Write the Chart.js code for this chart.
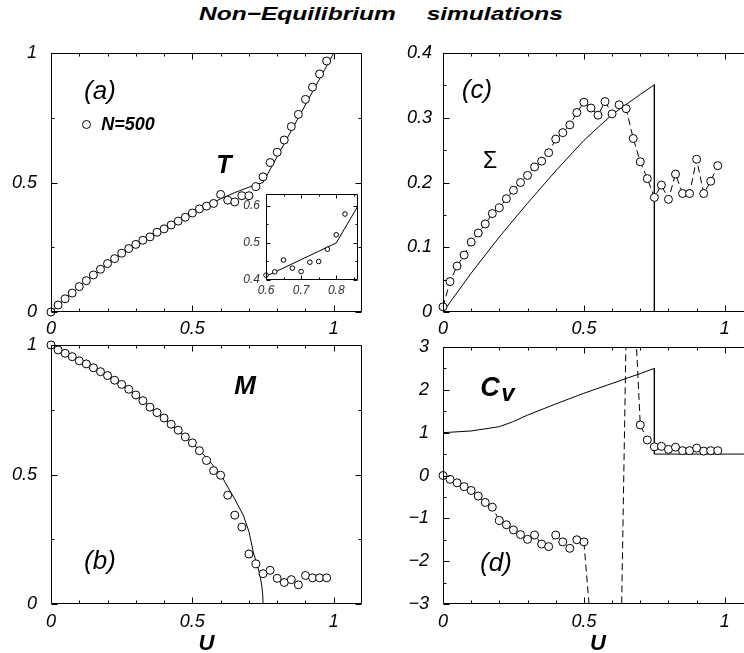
<!DOCTYPE html>
<html><head><meta charset="utf-8">
<script src="https://cdn.jsdelivr.net/npm/chart.js@4"></script>
<style>
html,body{margin:0;padding:0;background:#fff;}
body{width:744px;height:653px;overflow:hidden;position:relative;font-family:"Liberation Sans",Arial,sans-serif;}
canvas{position:absolute;}
.t{position:absolute;white-space:pre;line-height:1;transform:translate(-50%,-50%);color:#000;}
#title{position:absolute;left:199px;top:4px;font:italic bold 19px "Liberation Sans",Arial,sans-serif;line-height:1;white-space:pre;word-spacing:2.7px;transform:scaleX(1.29);transform-origin:0 0;}
#leg{position:absolute;left:81.5px;top:119.5px;width:9px;height:9px;border:1px solid #000;border-radius:50%;box-sizing:border-box;background:#fff;}
</style></head><body>
<div id="title">Non−Equilibrium   simulations</div>
<canvas id="ca"></canvas>
<canvas id="cb"></canvas>
<canvas id="cc"></canvas>
<canvas id="cd"></canvas>
<canvas id="ci"></canvas>
<div class="t" style="left:100px;top:90px;font:italic 26px 'Liberation Sans';">(a)</div>
<div class="t" style="left:100px;top:560px;font:italic 26px 'Liberation Sans';">(b)</div>
<div class="t" style="left:477px;top:89px;font:italic 26px 'Liberation Sans';">(c)</div>
<div class="t" style="left:496px;top:562px;font:italic 26px 'Liberation Sans';">(d)</div>
<div class="t" style="left:224px;top:164px;font:italic bold 25px 'Liberation Sans';">T</div>
<div class="t" style="left:245px;top:385px;font:italic bold 26px 'Liberation Sans';">M</div>
<div class="t" style="left:490px;top:160px;font:23px 'Liberation Sans';">Σ</div>
<div class="t" style="left:490px;top:387px;font:italic bold 27px 'Liberation Sans';">C</div>
<div class="t" style="left:508px;top:393px;font:italic bold 24px 'Liberation Sans';">v</div>
<div id="leg"></div>
<div class="t" style="left:128px;top:124px;font:italic bold 18px 'Liberation Sans';">N=500</div>
<script>
// ---------- data ----------
const U = [0, 0.025, 0.05, 0.075, 0.1, 0.125, 0.15, 0.175, 0.2, 0.225,
           0.25, 0.275, 0.3, 0.325, 0.35, 0.375, 0.4, 0.425, 0.45, 0.475,
           0.5, 0.525, 0.55, 0.575, 0.6, 0.625, 0.65, 0.675, 0.7, 0.725,
           0.75, 0.775, 0.8, 0.825, 0.85, 0.875, 0.9, 0.925, 0.95, 0.975];
const T_sim = [0.0, 0.027, 0.051, 0.073, 0.098, 0.121, 0.143, 0.165, 0.187, 0.206,
               0.227, 0.245, 0.261, 0.277, 0.290, 0.308, 0.321, 0.336, 0.351, 0.366,
               0.382, 0.398, 0.409, 0.419, 0.454, 0.432, 0.425, 0.449, 0.449, 0.484,
               0.522, 0.577, 0.617, 0.664, 0.716, 0.763, 0.821, 0.868, 0.919, 0.969];
const T_theoryU = [0, 0.05, 0.1, 0.15, 0.2, 0.25, 0.3, 0.35, 0.4, 0.45, 0.5, 0.55, 0.6, 0.65, 0.7, 0.75, 1.0];
const T_theory  = [0, 0.05, 0.097, 0.141, 0.184, 0.224, 0.26, 0.292, 0.322, 0.352, 0.381, 0.41, 0.437, 0.461, 0.482, 0.5, 1.0];

const M_sim = [1.0, 0.981, 0.968, 0.955, 0.939, 0.927, 0.912, 0.897, 0.882, 0.864,
               0.848, 0.829, 0.807, 0.785, 0.760, 0.739, 0.718, 0.694, 0.671, 0.645,
               0.622, 0.592, 0.554, 0.515, 0.497, 0.420, 0.343, 0.297, 0.193, 0.155,
               0.117, 0.130, 0.099, 0.083, 0.094, 0.074, 0.110, 0.101, 0.101, 0.101];
const M_theoryU = [0, 0.1, 0.2, 0.3, 0.4, 0.5, 0.55, 0.6, 0.65, 0.68, 0.7, 0.717, 0.73, 0.74, 0.746, 0.749, 0.75];
const M_theory  = [1, 0.94, 0.88, 0.808, 0.716, 0.622, 0.565, 0.5, 0.405, 0.343, 0.28, 0.193, 0.15, 0.106, 0.067, 0.034, 0];

const S_sim = [0.008, 0.047, 0.071, 0.088, 0.108, 0.122, 0.136, 0.152, 0.161, 0.175,
               0.188, 0.200, 0.211, 0.224, 0.233, 0.246, 0.267, 0.277, 0.289, 0.308,
               0.324, 0.315, 0.304, 0.325, 0.306, 0.320, 0.314, 0.268, 0.232, 0.206,
               0.177, 0.196, 0.174, 0.213, 0.183, 0.183, 0.236, 0.183, 0.202, 0.226];
const S_theoryU = [0, 0.1, 0.2, 0.3, 0.4, 0.5, 0.6, 0.7, 0.75, 0.75, 1.1];
const S_theory  = [0, 0.06, 0.116, 0.168, 0.218, 0.265, 0.305, 0.336, 0.351, 0, 0];

const C_sim = [0.0, -0.09, -0.17, -0.26, -0.35, -0.48, -0.63, -0.74, -1.05, -1.15,
               -1.27, -1.38, -1.49, -1.39, -1.60, -1.66, -1.39, -1.55, -1.70, -1.50,
               -1.55, -3.55, -4.5, -5.2, -6.0, -6.6, 3.4, 4.6, 1.18, 0.83,
               0.67, 0.68, 0.61, 0.66, 0.58, 0.58, 0.64, 0.57, 0.58, 0.58];
const C_theoryU = [0, 0.1, 0.2, 0.25, 0.3, 0.4, 0.5, 0.6, 0.7, 0.75, 0.75, 1.1];
const C_theory  = [1.0, 1.04, 1.14, 1.26, 1.41, 1.67, 1.92, 2.15, 2.38, 2.5, 0.5, 0.5];

const I_simU = [0.6, 0.625, 0.65, 0.675, 0.7, 0.725, 0.75, 0.775, 0.8, 0.825];
const I_sim  = [0.413, 0.422, 0.454, 0.432, 0.423, 0.448, 0.450, 0.483, 0.522, 0.578];
const I_theoryU = [0.6, 0.8, 0.862];
const I_theory  = [0.41, 0.5, 0.6];

// tick values
const uMajor = [0, 0.5, 1];
const uMinor = [0.1, 0.2, 0.3, 0.4, 0.6, 0.7, 0.8, 0.9];
const unitMajor = [0, 0.5, 1];
const unitMinor = [0.25, 0.75];
const sMajor = [0, 0.1, 0.2, 0.3, 0.4];
const sMinor = [0.05, 0.15, 0.25, 0.35];
const cMajor = [-3, -2, -1, 0, 1, 2, 3];
const cMinor = [-2.5, -1.5, -0.5, 0.5, 1.5, 2.5];
const iuMajor = [0.6, 0.7, 0.8];
const iuMinor = [0.65, 0.75, 0.85];
const iyMajor = [0.4, 0.5, 0.6];
const iyMinor = [0.45, 0.55];

// ---------- helpers ----------
const pts = (xs, ys) => xs.map((x, i) => ({x, y: ys[i]}));
const fmt = v => String(v).replace('-', '\u2212');
const FONT = '"Liberation Sans", Arial, sans-serif';

const frameTicks = {
  id: 'frameTicks',
  afterDatasetsDraw(chart) {
    const o = chart.options.plugins.frameTicks;
    const {ctx, chartArea: a} = chart;
    const xs = chart.scales.x, ys = chart.scales.y;
    const L = Math.round(a.left) + 0.5, R = Math.round(a.right) - 0.5;
    const T = Math.round(a.top) + 0.5, B = Math.round(a.bottom) - 0.5;
    ctx.save();
    ctx.strokeStyle = '#000';
    ctx.lineWidth = 1;
    ctx.beginPath();
    ctx.moveTo(L, T); ctx.lineTo(R, T); ctx.lineTo(R, B); ctx.lineTo(L, B); ctx.closePath();
    const xt = (vals, len) => vals.forEach(v => {
      const p = Math.round(xs.getPixelForValue(v)) + 0.5;
      ctx.moveTo(p, B); ctx.lineTo(p, B - len);
      ctx.moveTo(p, T); ctx.lineTo(p, T + len);
    });
    const yt = (vals, len) => vals.forEach(v => {
      const p = Math.round(ys.getPixelForValue(v)) + 0.5;
      ctx.moveTo(L, p); ctx.lineTo(L + len, p);
      ctx.moveTo(R, p); ctx.lineTo(R - len, p);
    });
    xt(o.xMajor, o.maj); xt(o.xMinor, o.min);
    yt(o.yMajor, o.maj); yt(o.yMinor, o.min);
    ctx.stroke();
    ctx.restore();
  }
};

function makeChart(id, box, area, cfg) {
  const cv = document.getElementById(id);
  cv.style.left = box.x + 'px'; cv.style.top = box.y + 'px';
  cv.width = box.w; cv.height = box.h;
  cv.style.width = box.w + 'px'; cv.style.height = box.h + 'px';
  const fs = cfg.fontSize || 18;
  const tickFont = {family: FONT, size: fs, style: 'italic'};
  return new Chart(cv, {
    type: 'scatter',
    data: {datasets: cfg.datasets},
    options: {
      responsive: false, animation: false, devicePixelRatio: 1, events: [],
      layout: {padding: {left: 0, top: area.t - box.y, right: box.x + box.w - area.r, bottom: 0}},
      plugins: {
        legend: {display: false}, tooltip: {enabled: false},
        frameTicks: {xMajor: cfg.xMajor, xMinor: cfg.xMinor, yMajor: cfg.yMajor, yMinor: cfg.yMinor,
                     maj: cfg.maj || 6, min: cfg.min || 3}
      },
      scales: {
        x: {
          type: 'linear', position: 'bottom', min: cfg.xMin, max: cfg.xMax,
          grid: {display: false, drawTicks: false}, border: {display: false},
          afterBuildTicks: s => { s.ticks = cfg.xMajor.map(v => ({value: v})); },
          ticks: {autoSkip: false, maxRotation: 0, minRotation: 0, padding: cfg.xPad, color: cfg.tickColor || '#000',
                  font: tickFont, callback: v => fmt(v)},
          title: cfg.xTitle ? {display: true, text: cfg.xTitle, color: '#000',
                  font: {family: FONT, size: 22, style: 'italic', weight: 'bold', lineHeight: 0.8},
                  padding: {top: 0, bottom: 0}} : {display: false},
          afterFit: s => { s.height = box.y + box.h - area.b; s.paddingLeft = 0; s.paddingRight = 0; }
        },
        y: {
          type: 'linear', position: 'left', min: cfg.yMin, max: cfg.yMax,
          grid: {display: false, drawTicks: false}, border: {display: false},
          afterBuildTicks: s => { s.ticks = cfg.yMajor.map(v => ({value: v})); },
          ticks: {autoSkip: false, padding: cfg.yPad, color: cfg.tickColor || '#000',
                  font: tickFont, callback: v => fmt(v)},
          afterFit: s => { s.width = area.l - box.x; s.paddingTop = 0; s.paddingBottom = 0; }
        }
      }
    },
    plugins: [frameTicks]
  });
}

const theory = (xs, ys) => ({data: pts(xs, ys), showLine: true, pointRadius: 0, borderColor: '#000',
                             borderWidth: 1, tension: 0, order: 2});
const circles = (xs, ys, r) => ({data: pts(xs, ys), showLine: false, pointRadius: r || 4, pointStyle: 'circle',
                                 borderColor: '#000', backgroundColor: '#fff', borderWidth: 1, clip: 10, order: 0});
const dashed = (xs, ys) => ({data: pts(xs, ys), showLine: true, pointRadius: 0, borderColor: '#000',
                             borderWidth: 1, borderDash: [7, 4], tension: 0, order: 1});

// (a) T
makeChart('ca', {x: 0, y: 30, w: 372, h: 310}, {l: 51, t: 53, r: 362, b: 312}, {
  xMin: 0, xMax: 1.1, yMin: 0, yMax: 1, xMajor: uMajor, xMinor: uMinor, yMajor: unitMajor, yMinor: unitMinor,
  xPad: 6, yPad: 14,
  datasets: [theory(T_theoryU, T_theory), circles(U, T_sim)]
});
// (b) M
makeChart('cb', {x: 0, y: 335, w: 372, h: 318}, {l: 51, t: 345, r: 362, b: 604}, {
  xMin: 0, xMax: 1.1, yMin: 0, yMax: 1, xMajor: uMajor, xMinor: uMinor, yMajor: unitMajor, yMinor: unitMinor,
  xPad: 7, yPad: 14, xTitle: 'U',
  datasets: [theory(M_theoryU, M_theory), circles(U, M_sim)]
});
// (c) Sigma
makeChart('cc', {x: 372, y: 30, w: 400, h: 310}, {l: 443, t: 53, r: 753, b: 312}, {
  xMin: 0, xMax: 1.1, yMin: 0, yMax: 0.4, xMajor: uMajor, xMinor: uMinor, yMajor: sMajor, yMinor: sMinor,
  xPad: 6, yPad: 11,
  datasets: [theory(S_theoryU, S_theory), dashed(U, S_sim), circles(U, S_sim)]
});
// (d) Cv
makeChart('cd', {x: 372, y: 335, w: 400, h: 318}, {l: 443, t: 347, r: 753, b: 604}, {
  xMin: 0, xMax: 1.1, yMin: -3, yMax: 3, xMajor: uMajor, xMinor: uMinor, yMajor: cMajor, yMinor: cMinor,
  xPad: 7, yPad: 14, xTitle: 'U',
  datasets: [theory(C_theoryU, C_theory), dashed(U, C_sim), circles(U, C_sim)]
});
// inset
makeChart('ci', {x: 225, y: 185, w: 140, h: 115}, {l: 266, t: 194, r: 358, b: 280}, {
  xMin: 0.6, xMax: 0.862, yMin: 0.4, yMax: 0.632, xMajor: iuMajor, xMinor: iuMinor, yMajor: iyMajor, yMinor: iyMinor,
  xPad: 3, yPad: 6, fontSize: 12, tickColor: '#333', maj: 4, min: 2,
  datasets: [theory(I_theoryU, I_theory), circles(I_simU, I_sim, 2.3)]
});
</script>
</body></html>
